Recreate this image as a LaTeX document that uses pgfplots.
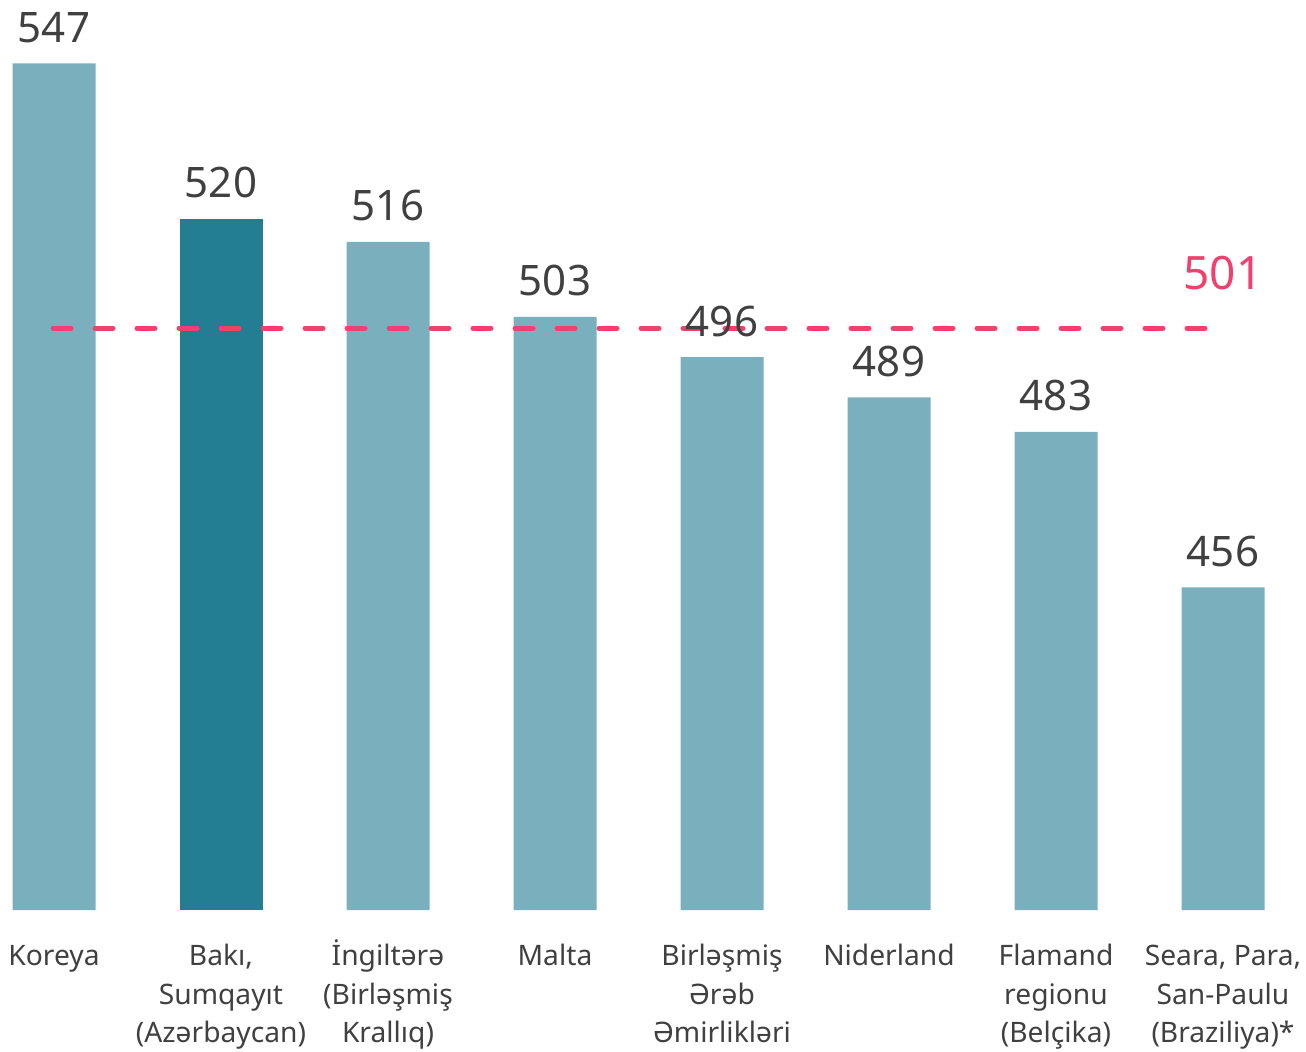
\documentclass[border=0pt]{standalone}
\usepackage{pgfplots}
\pgfplotsset{compat=1.18}
\usepackage{pgfplotstable}
\usepackage{fontspec}
\setmainfont{Noto Sans}
\definecolor{lightbar}{HTML}{7AB0BE}
\definecolor{darkbar}{HTML}{237E94}
\definecolor{avgline}{HTML}{F0416E}
\definecolor{txt}{HTML}{404040}

\pgfplotstableread{
x v
0 547
2 516
3 503
4 496
5 489
6 483
7 456
}\lightdata
\pgfplotstableread{
x v
1 520
}\darkdata
\pgfplotstableread{
x v
0 547
1 520
2 516
3 503
4 496
5 489
6 483
7 456
}\alldata

\begin{document}
\begin{tikzpicture}
\begin{axis}[
  name=ax,
  scale only axis,
  width=653pt, height=455pt,
  xmin=-0.3234, xmax=7.497,
  ymin=400, ymax=558,
  hide axis,
  clip mode=individual,
  ybar, bar width=41.5pt, bar shift=0pt,
]
\addplot[ybar, fill=lightbar, draw=none] table[x=x, y=v] {\lightdata};
\addplot[ybar, fill=darkbar, draw=none] table[x=x, y=v] {\darkdata};
\addplot[sharp plot, avgline, line width=2.65pt, line cap=round,
  dash pattern=on 8.85pt off 12.15pt] coordinates {(-0.005,501) (6.925,501)};
\addplot[sharp plot, draw=none, mark=none, point meta=explicit symbolic,
  nodes near coords,
  every node near coord/.style={anchor=base, yshift=10.5pt, inner sep=0pt,
    font=\fontsize{21}{25}\selectfont, text=txt}]
  table[x=x, y=v, meta=v] {\alldata};
\node[anchor=base, inner sep=0pt, text=avgline, font=\fontsize{23}{27}\selectfont]
  at (axis cs:7.0,501) [yshift=19.5pt] {501};
\foreach \i/\lab in {0/{Koreya},
  1/{Bakı,\\Sumqayıt\\(Azərbaycan)},
  2/{İngiltərə\\(Birləşmiş\\Krallıq)},
  3/{Malta},
  4/{Birləşmiş\\Ərəb\\Əmirlikləri},
  5/{Niderland},
  6/{Flamand\\regionu\\(Belçika)},
  7/{Seara, Para,\\San-Paulu\\(Braziliya)*}} {
  \edef\temp{\noexpand\node[anchor=north, inner sep=0pt, align=center, text=txt,
    font=\noexpand\fontsize{14.1}{19.3}\noexpand\selectfont]
    at (axis cs:\i,400) [yshift=-13.5pt] {\noexpand\rule{0pt}{14pt}\unexpanded\expandafter{\lab}};}
  \temp
}
\end{axis}
\pgfresetboundingbox
\path (ax.south west) ++(0,-70.5pt) rectangle (ax.north east);
\end{tikzpicture}
\end{document}
